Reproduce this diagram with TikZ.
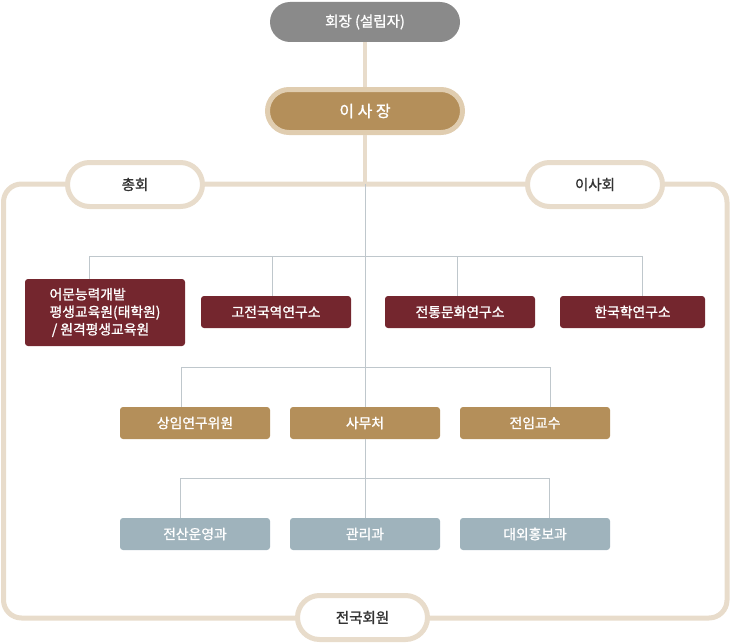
\documentclass[tikz,border=0pt]{standalone}
\usepackage{fontspec}
\setmainfont[FakeBold=1.2]{Noto Sans CJK KR}
\usepackage{tikz}
\usetikzlibrary{positioning, calc}
\definecolor{beige}{HTML}{E8DCCB}
\definecolor{chairring}{HTML}{E0CDB0}
\definecolor{gold}{HTML}{B48F5A}
\definecolor{maroon}{HTML}{74262E}
\definecolor{slate}{HTML}{9FB3BC}
\definecolor{topgray}{HTML}{8A8A8A}
\definecolor{wire}{HTML}{BFC7CC}
\definecolor{ink}{HTML}{333333}
\tikzset{
  box/.style    = {rounded corners=3pt, align=center, font=\fontsize{13.8}{16}\selectfont,
                   text=white, minimum height=32pt, minimum width=150pt, inner sep=0pt},
  inst/.style   = {box, fill=maroon},
  unit/.style   = {box, fill=gold},
  dept/.style   = {box, fill=slate},
  pill/.style   = {draw=beige, line width=5pt, fill=white, rounded corners=22pt,
                   minimum width=135pt, minimum height=44pt, text=ink,
                   font=\fontsize{14.5}{16}\selectfont, inner sep=0pt},
  band/.style   = {beige, line width=5pt},
  spine/.style  = {beige, line width=4.5pt},
  link/.style   = {wire, line width=1pt},
}

\begin{document}
\begin{tikzpicture}[x=1pt, y=-1pt]
    \useasboundingbox (0,0) rectangle (730,642);

    % outer frame of the membership bodies
    \draw[band, rounded corners=18pt] (3.5,184) rectangle (727,618);

    \node[fill=topgray, rounded corners=20pt, minimum width=190pt, minimum height=40pt,
          text=white, font=\fontsize{14.5}{16}\selectfont, inner sep=0pt] (ceo) at (365,22) {회장 (설립자)};
    \node[pill, draw=chairring, fill=gold, text=white, minimum width=195pt, minimum height=43pt,
          rounded corners=21.5pt, font=\fontsize{16}{16}\selectfont] (chair) at (365,111) {이 사 장};
    \coordinate (hub) at (365,184);
    \draw[spine] (ceo) -- (chair);
    \draw[spine] (chair) -- (hub);

    \node[pill] (assembly) at (135,184.5) {총회};
    \node[pill] (board) at (595,184.5) {이사회};
    \node[pill, minimum width=130pt] (members) at (362.5,617.5) {전국회원};

    % institutes
    \node[inst, minimum width=160pt, minimum height=67pt, align=left,
          font=\fontsize{13.8}{17.5}\selectfont] (lang) at (105,312.5)
      {어문능력개발\\평생교육원(태학원)\\\,/ 원격평생교육원};
    \node[inst] (classic) at (276,312) {고전국역연구소};
    \node[inst] (culture) at (460,312) {전통문화연구소};
    \node[inst, minimum width=145pt] (korea) at (632.5,312) {한국학연구소};

    % second row
    \node[unit] (fellows) at (195,423) {상임연구위원};
    \node[unit] (office)  at (365,423) {사무처};
    \node[unit] (prof)    at (535,423) {전임교수};

    % departments
    \node[dept] (it)    at (195,534) {전산운영과};
    \node[dept] (admin) at (365,534) {관리과};
    \node[dept] (pr)    at (535,534) {대외홍보과};

    \coordinate (bus1) at (365,256.5);
    \coordinate (bus2) at (365,367.5);
    \coordinate (bus3) at (365,478.5);
    \draw[link] (hub) -- (office.north);
    \draw[link] ([xshift=-16pt]lang.north) |- (bus1) -| ([xshift=10pt]korea.north);
    \draw[link] ([xshift=-3.5pt]classic.north) |- (bus1);
    \draw[link] ([xshift=-3pt]culture.north) |- (bus1);
    \draw[link] ([xshift=-14pt]fellows.north) |- (bus2) -| ([xshift=15.5pt]prof.north);
    \draw[link] (office.south) -- (admin.north);
    \draw[link] ([xshift=-14.5pt]it.north) |- (bus3) -| ([xshift=14.5pt]pr.north);
  \end{tikzpicture}
\end{document}
